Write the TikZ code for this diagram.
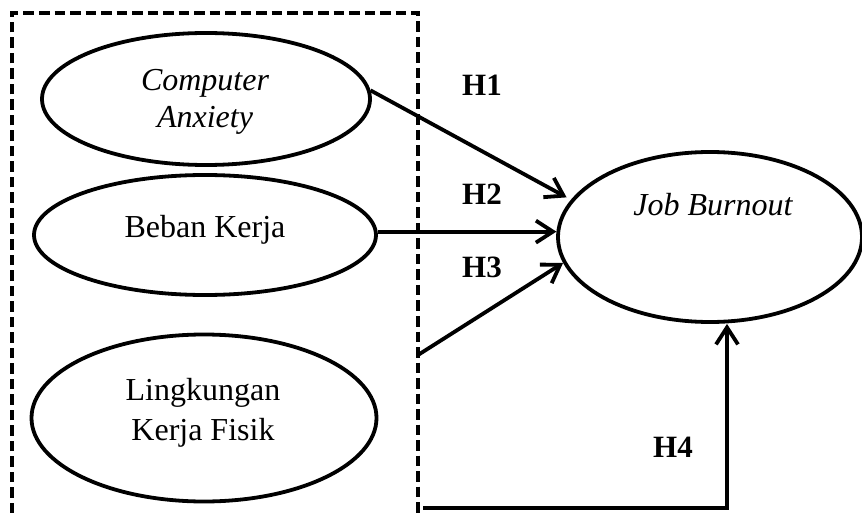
\documentclass[tikz,border=0pt]{standalone}
\usepackage{fontspec}
\setmainfont{Liberation Serif}
\usetikzlibrary{shapes.geometric,arrows.meta}
\begin{document}
\begin{tikzpicture}[x=1pt,y=-1pt,
  ell/.style={draw, ellipse, line width=3.8pt, inner sep=0pt},
  lbl/.style={font=\fontsize{32}{38}\selectfont, align=center, inner sep=0pt},
  hyp/.style={font=\fontsize{31}{36}\selectfont\bfseries, inner sep=0pt, anchor=base},
  conn/.style={line width=3.8pt, -{Straight Barb[length=17pt,width=22pt]}},
  boxline/.style={line width=3.6pt, dash pattern=on 10.5pt off 5pt}]
\useasboundingbox (0,0) rectangle (862,513);
% dashed grouping box
\draw[boxline] (12,513) -- (12,13) -- (418,13) -- (418,513);
% ellipses
\node[ell, minimum width=328pt, minimum height=132pt] (ca) at (206,99) {};
\node[ell, minimum width=342pt, minimum height=120pt] (bb) at (205,235) {};
\node[ell, minimum width=345pt, minimum height=167pt] (lk) at (204,418) {};
\node[ell, minimum width=304pt, minimum height=170pt] (jb) at (710,237) {};
% texts
\node[lbl, font=\fontsize{32}{37}\selectfont\itshape] (cat) at (205,102) {Computer\\Anxiety};
\node[lbl, anchor=base] (bbt) at (205,237) {Beban Kerja};
\node[lbl, font=\fontsize{32}{40}\selectfont] (lkt) at (203,413) {Lingkungan\\Kerja Fisik};
\node[lbl, anchor=base, font=\fontsize{32}{38}\selectfont\itshape] (jbt) at (713,215) {Job Burnout};
% hypothesis labels
\node[hyp] (h1) at (482,96) {H1};
\node[hyp] (h2) at (482,205) {H2};
\node[hyp] (h3) at (482,277) {H3};
\node[hyp] (h4) at (673,457) {H4};
% connectors
\coordinate (h3s) at (418,355);
\coordinate (h4s) at (423,508);
\coordinate (h4c) at (727,508);
\draw[conn, shorten >=5pt] (ca.3) -- (jb.165);
\draw[conn] (bb.east |- jb.178) -- (jb.178);
\draw[conn] (h3s) -- (jb.190);
\draw[conn] (h4s) -- (h4c) -- (h4c |- jb.south);
\end{tikzpicture}
\end{document}
